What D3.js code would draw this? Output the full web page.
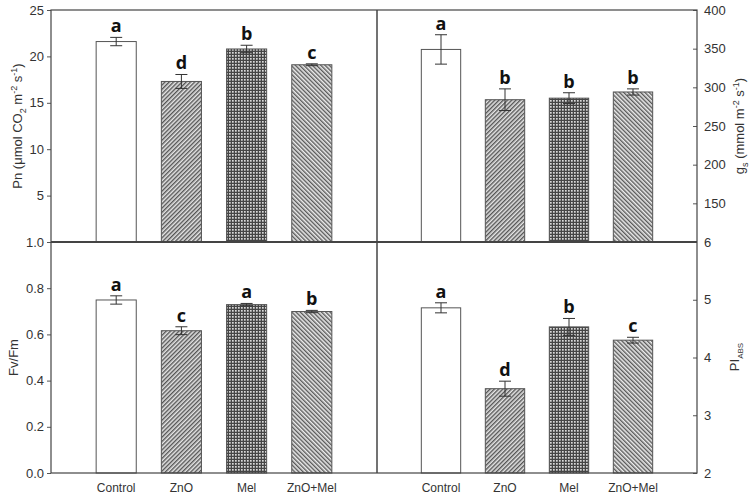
<!DOCTYPE html>
<html>
<head>
    <title>Pn gs FvFm PIabs</title>
    <script src="https://cdn.jsdelivr.net/npm/d3@7/dist/d3.min.js"></script>
    <style>
        body { margin: 0; background: #fff; }
        text { font-family: "Liberation Sans", Arial, sans-serif; fill: #333; }
    </style>
</head>
<body>
    <svg></svg>
    <script>
        const width = 755;
        const height = 497;

        // data
        const categories = ["Control", "ZnO", "Mel", "ZnO+Mel"];

        const pnMean = [21.6, 17.3, 20.8, 19.1];
        const pnErr = [0.45, 0.75, 0.4, 0.1];
        const pnLetters = ["a", "d", "b", "c"];

        const gsMean = [349, 284, 286, 294];
        const gsErr = [19, 14, 7, 4];
        const gsLetters = ["a", "b", "b", "b"];

        const fvMean = [0.749, 0.616, 0.729, 0.699];
        const fvErr = [0.018, 0.017, 0.005, 0.005];
        const fvLetters = ["a", "c", "a", "b"];

        const piMean = [4.86, 3.46, 4.53, 4.30];
        const piErr = [0.087, 0.13, 0.146, 0.05];
        const piLetters = ["a", "d", "b", "c"];

        const pnTicks = [5, 10, 15, 20, 25];
        const gsTicks = [150, 200, 250, 300, 350, 400];
        const fvTicks = [0, 0.2, 0.4, 0.6, 0.8, 1.0];
        const piTicks = [2, 3, 4, 5, 6];

        // layout
        const x0 = 51, x1 = 377, x2 = 697;
        const y0 = 10, y1 = 242, y2 = 473;

        let svg = d3.select("svg")
            .attr("width", width)
            .attr("height", height);

        // patterns
        let defs = svg.append("defs");

        function hatch(id, angle, bg, fg) {
            let p = defs.append("pattern")
                .attr("id", id)
                .attr("patternUnits", "userSpaceOnUse")
                .attr("width", 3)
                .attr("height", 3)
                .attr("patternTransform", "rotate(" + angle + ")");
            p.append("rect").attr("width", 3).attr("height", 3).attr("fill", bg);
            p.append("rect").attr("width", 1.4).attr("height", 3).attr("fill", fg);
        }
        hatch("hatchZnO", 45, "#e4e4e4", "#555");
        hatch("hatchBoth", -45, "#ececec", "#5a5a5a");

        let dots = defs.append("pattern")
            .attr("id", "dotsMel")
            .attr("patternUnits", "userSpaceOnUse")
            .attr("width", 3)
            .attr("height", 3);
        dots.append("rect").attr("width", 3).attr("height", 3).attr("fill", "#454545");
        dots.append("rect").attr("x", 1).attr("y", 1).attr("width", 1.7).attr("height", 1.7).attr("fill", "#d8d8d8");

        const fills = ["#fff", "url(#hatchZnO)", "url(#dotsMel)", "url(#hatchBoth)"];

        let xLeft = d3.scaleBand()
            .domain(categories)
            .range([x0, x1])
            .paddingInner(0.385)
            .paddingOuter(0.6925);

        let xRight = d3.scaleBand()
            .domain(categories)
            .range([x1, x2])
            .paddingInner(0.385)
            .paddingOuter(0.6925);

        let yPn = d3.scaleLinear().domain([0, 25]).range([y1, y0]);
        let yGs = d3.scaleLinear().domain([100, 400]).range([y1, y0]);
        let yFv = d3.scaleLinear().domain([0, 1]).range([y2, y1]);
        let yPi = d3.scaleLinear().domain([2, 6]).range([y2, y1]);

        function drawBars(xScale, yScale, means, errs, letters) {
            let g = svg.append("g");
            let base = yScale.domain()[0];
            let data = categories.map((c, i) => ({ c: c, m: means[i], e: errs[i], l: letters[i], f: fills[i] }));

            g.selectAll("rect.bar")
                .data(data)
                .enter()
                .append("rect")
                .attr("class", "bar")
                .attr("x", (d) => xScale(d.c))
                .attr("y", (d) => yScale(d.m))
                .attr("width", xScale.bandwidth())
                .attr("height", (d) => yScale(base) - yScale(d.m))
                .attr("fill", (d) => d.f)
                .attr("stroke", "#555")
                .attr("stroke-width", 1);

            let cx = (d) => xScale(d.c) + xScale.bandwidth() / 2;

            g.selectAll("line.err")
                .data(data)
                .enter()
                .append("line")
                .attr("x1", cx).attr("x2", cx)
                .attr("y1", (d) => yScale(d.m - d.e))
                .attr("y2", (d) => yScale(d.m + d.e))
                .attr("stroke", "#333");

            [1, -1].forEach((s) => {
                g.selectAll(null)
                    .data(data)
                    .enter()
                    .append("line")
                    .attr("x1", (d) => cx(d) - 6).attr("x2", (d) => cx(d) + 6)
                    .attr("y1", (d) => yScale(d.m + s * d.e))
                    .attr("y2", (d) => yScale(d.m + s * d.e))
                    .attr("stroke", "#333");
            });

            g.selectAll("text.letter")
                .data(data)
                .enter()
                .append("text")
                .attr("x", cx)
                .attr("y", (d) => yScale(d.m + d.e) - 5)
                .attr("text-anchor", "middle")
                .style("font-family", "'Open Sans', 'DejaVu Sans', sans-serif")
                .style("font-weight", "bold")
                .style("font-size", "18px")
                .style("fill", "#111")
                .text((d) => d.l);
        }

        drawBars(xLeft, yPn, pnMean, pnErr, pnLetters);
        drawBars(xRight, yGs, gsMean, gsErr, gsLetters);
        drawBars(xLeft, yFv, fvMean, fvErr, fvLetters);
        drawBars(xRight, yPi, piMean, piErr, piLetters);

        // axes
        function styleAxis(sel) {
            sel.select(".domain").remove();
            sel.selectAll(".tick line").attr("stroke", "#555");
            sel.selectAll(".tick text").style("font-size", "13px").style("fill", "#333")
                .style("font-family", "'Liberation Sans', Arial, sans-serif");
        }

        svg.append("g")
            .attr("transform", "translate(" + x0 + ",0)")
            .call(d3.axisLeft(yPn).tickValues(pnTicks).tickSize(4).tickPadding(3).tickFormat(d3.format("d")))
            .call(styleAxis);

        svg.append("g")
            .attr("transform", "translate(" + x0 + ",0)")
            .call(d3.axisLeft(yFv).tickValues(fvTicks).tickSize(4).tickPadding(3).tickFormat(d3.format(".1f")))
            .call(styleAxis);

        svg.append("g")
            .attr("transform", "translate(" + x2 + ",0)")
            .call(d3.axisRight(yGs).tickValues(gsTicks).tickSizeInner(-4).tickSizeOuter(0).tickPadding(7).tickFormat(d3.format("d")))
            .call(styleAxis);

        svg.append("g")
            .attr("transform", "translate(" + x2 + ",0)")
            .call(d3.axisRight(yPi).tickValues(piTicks).tickSizeInner(-4).tickSizeOuter(0).tickPadding(7).tickFormat(d3.format("d")))
            .call(styleAxis);

        // category labels
        [xLeft, xRight].forEach((xs) => {
            svg.append("g")
                .attr("transform", "translate(0," + y2 + ")")
                .call(d3.axisBottom(xs).tickSize(0).tickPadding(10))
                .call((sel) => {
                    sel.select(".domain").remove();
                    sel.selectAll(".tick text").style("font-size", "12px").style("fill", "#333")
                        .style("font-family", "'Liberation Sans', Arial, sans-serif");
                });
        });

        // frame
        let frame = svg.append("g").attr("stroke", "#444").attr("fill", "none");
        frame.append("rect").attr("x", x0).attr("y", y0).attr("width", x2 - x0).attr("height", y2 - y0).attr("stroke-width", 1.2);
        frame.append("line").attr("x1", x1).attr("x2", x1).attr("y1", y0).attr("y2", y2).attr("stroke-width", 1.5);
        frame.append("line").attr("x1", x0).attr("x2", x2).attr("y1", y1).attr("y2", y1).attr("stroke-width", 1.8);

        // axis titles
        let t1 = svg.append("text")
            .attr("transform", "translate(22," + ((y0 + y1) / 2) + ") rotate(-90)")
            .attr("text-anchor", "middle")
            .style("font-size", "13px");
        t1.append("tspan").text("Pn (\u03bcmol CO");
        t1.append("tspan").attr("dy", 4).style("font-size", "9px").text("2");
        t1.append("tspan").attr("dy", -4).text(" m");
        t1.append("tspan").attr("dy", -5).style("font-size", "9px").text("-2");
        t1.append("tspan").attr("dy", 5).text(" s");
        t1.append("tspan").attr("dy", -5).style("font-size", "9px").text("-1");
        t1.append("tspan").attr("dy", 5).text(")");

        svg.append("text")
            .attr("transform", "translate(18," + ((y1 + y2) / 2) + ") rotate(-90)")
            .attr("text-anchor", "middle")
            .style("font-size", "13px")
            .text("Fv/Fm");

        let t3 = svg.append("text")
            .attr("transform", "translate(744," + ((y0 + y1) / 2) + ") rotate(-90)")
            .attr("text-anchor", "middle")
            .style("font-size", "13px");
        t3.append("tspan").text("g");
        t3.append("tspan").attr("dy", 4).style("font-size", "9px").text("s");
        t3.append("tspan").attr("dy", -4).text(" (mmol m");
        t3.append("tspan").attr("dy", -5).style("font-size", "9px").text("-2");
        t3.append("tspan").attr("dy", 5).text(" s");
        t3.append("tspan").attr("dy", -5).style("font-size", "9px").text("-1");
        t3.append("tspan").attr("dy", 5).text(")");

        let t4 = svg.append("text")
            .attr("transform", "translate(739," + 357 + ") rotate(-90)")
            .attr("text-anchor", "middle")
            .style("font-size", "13px");
        t4.append("tspan").text("PI");
        t4.append("tspan").attr("dy", 4).style("font-size", "8px").text("ABS");
    </script>
</body>
</html>
